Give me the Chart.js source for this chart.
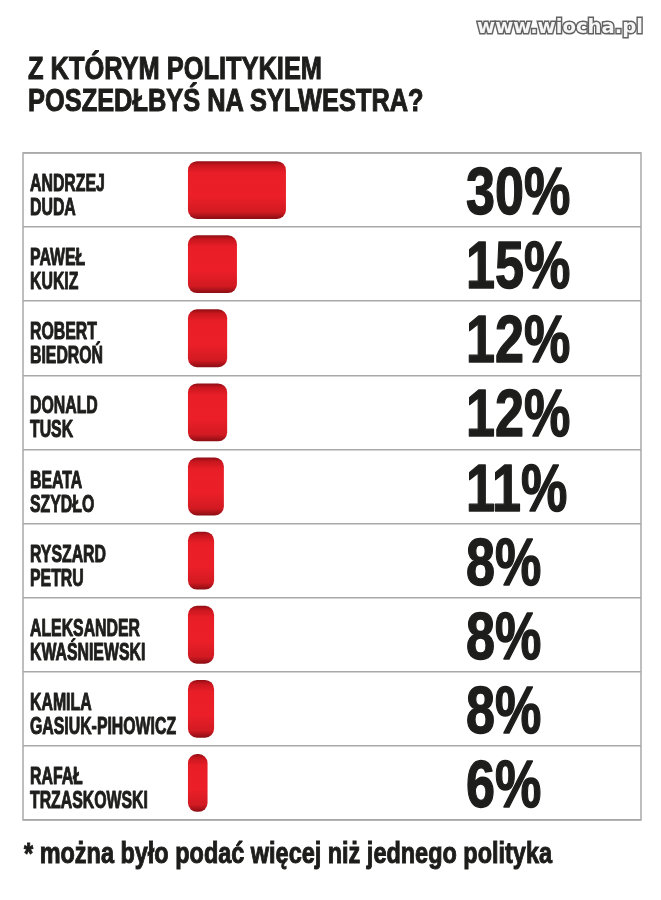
<!DOCTYPE html>
<html lang="pl">
<head>
    <title>Z którym politykiem poszedłbyś na Sylwestra?</title>
    <script src="https://cdn.jsdelivr.net/npm/chart.js@4/dist/chart.umd.min.js"></script>
    <style>
        body { margin: 0; background: #fff; }
        .page { position: relative; width: 661px; height: 900px; overflow: hidden; }
        .page canvas { position: absolute; left: 0; top: 0; }
        .title {
            position: absolute; left: 28px; top: 53px;
            font: bold 31px 'Liberation Sans', sans-serif;
            line-height: 32px; color: #1d1d1b; white-space: nowrap;
            -webkit-text-stroke: 1px #1d1d1b;
            transform-origin: left top;
        }
        .note {
            position: absolute; left: 24px; top: 837px;
            font: bold 29px 'Liberation Sans', sans-serif;
            color: #1d1d1b; white-space: nowrap;
            -webkit-text-stroke: 1px #1d1d1b;
            transform-origin: left top;
        }
        .mark {
            position: absolute; left: 477px; top: 14px;
            font: bold 20px 'DejaVu Sans', sans-serif; color: #f6f6f6;
            -webkit-text-stroke: 3px #626262; paint-order: stroke fill;
            white-space: nowrap; transform-origin: left top;
        }
    </style>
</head>
<body>
<div class="page">
    <canvas id="pollChart" width="661" height="900"></canvas>
    <div class="mark" id="mark">www.wiocha.pl</div>
    <div class="title" id="title"><span id="titleLine">Z KTÓRYM POLITYKIEM</span><br>POSZEDŁBYŚ NA SYLWESTRA?</div>
    <div class="note" id="note">* można było podać więcej niż jednego polityka</div>
</div>

<script>
    /* poll data */
    const names = [
        ["ANDRZEJ", "DUDA"],
        ["PAWEŁ", "KUKIZ"],
        ["ROBERT", "BIEDROŃ"],
        ["DONALD", "TUSK"],
        ["BEATA", "SZYDŁO"],
        ["RYSZARD", "PETRU"],
        ["ALEKSANDER", "KWAŚNIEWSKI"],
        ["KAMILA", "GASIUK-PIHOWICZ"],
        ["RAFAŁ", "TRZASKOWSKI"]
    ];
    const percents = [30, 15, 12, 12, 11, 8, 8, 8, 6];

    const gridGray = '#a9a9a9';
    const ink = '#1d1d1b';

    /* squeeze the html texts to the narrow look of the poster font */
    function fitWidth(el, measured, target) {
        el.style.transform = 'scaleX(' + (target / measured.getBoundingClientRect().width) + ')';
    }
    fitWidth(document.getElementById('title'), document.getElementById('titleLine'), 294);
    fitWidth(document.getElementById('note'), document.getElementById('note'), 528);
    fitWidth(document.getElementById('mark'), document.getElementById('mark'), 166);

    /* glossy red fill for each bar, darker at the top and bottom edges */
    function barFill(context) {
        const chart = context.chart;
        if (!chart.chartArea || context.type !== 'data') return '#e31d25';
        const yScale = chart.scales.y;
        const mid = yScale.getPixelForValue(context.dataIndex);
        const step = yScale.getPixelForValue(1) - yScale.getPixelForValue(0);
        const h = step * 0.39;
        const g = chart.ctx.createLinearGradient(0, mid - h, 0, mid + h);
        g.addColorStop(0, '#8f0e14');
        g.addColorStop(0.07, '#c8161e');
        g.addColorStop(0.2, '#e81e27');
        g.addColorStop(0.6, '#ec1f28');
        g.addColorStop(0.88, '#d21a22');
        g.addColorStop(1, '#8a0d13');
        return g;
    }

    /* outer frame of the table */
    const frame = {
        id: 'frame',
        afterDraw(chart) {
            const {ctx, chartArea: a} = chart;
            ctx.save();
            ctx.strokeStyle = gridGray;
            ctx.lineWidth = 1.5;
            ctx.strokeRect(a.left, a.top, a.right - a.left, a.bottom - a.top);
            ctx.restore();
        }
    };

    /* narrow, heavy text: squeezed horizontally and thickened with a stroke */
    function narrowText(ctx, text, x, y, squeeze, weight) {
        ctx.save();
        ctx.translate(x, y);
        ctx.scale(squeeze, 1);
        ctx.lineWidth = weight;
        ctx.lineJoin = 'round';
        ctx.strokeText(text, 0, 0);
        ctx.fillText(text, 0, 0);
        ctx.restore();
    }

    /* names on the left and big percentages on the right of each row */
    const rowTexts = {
        id: 'rowTexts',
        afterDatasetsDraw(chart) {
            const {ctx} = chart;
            const yScale = chart.scales.y;
            ctx.save();
            ctx.fillStyle = ink;
            ctx.strokeStyle = ink;
            ctx.textAlign = 'left';
            ctx.textBaseline = 'alphabetic';
            chart.data.labels.forEach((lines, i) => {
                const y = yScale.getPixelForValue(i);
                ctx.font = 'bold 24px "Liberation Sans", sans-serif';
                lines.forEach((line, k) => narrowText(ctx, line, 30, y + 1 + k * 24, 0.66, 1));
                ctx.font = 'bold 66px "Liberation Sans", sans-serif';
                narrowText(ctx, chart.data.datasets[0].data[i] + '%', 466, y + 24, 0.79, 1.4);
            });
            ctx.restore();
        }
    };

    const ctx = document.getElementById('pollChart').getContext('2d');
    const pollChart = new Chart(ctx, {
        type: 'bar',
        data: {
            labels: names,
            datasets: [{
                label: 'Odpowiedzi',
                data: percents,
                backgroundColor: barFill,
                borderRadius: 9,
                borderSkipped: false,
                categoryPercentage: 1,
                barPercentage: 0.78
            }]
        },
        options: {
            indexAxis: 'y',
            responsive: false,
            animation: false,
            events: [],
            layout: {
                padding: {top: 153, bottom: 80, left: 23, right: 20}
            },
            scales: {
                x: {
                    display: false,
                    min: -50.5,
                    max: 138.7
                },
                y: {
                    border: {display: false},
                    grid: {
                        color: gridGray,
                        lineWidth: 1.5,
                        drawTicks: false
                    },
                    ticks: {display: false}
                }
            },
            plugins: {
                legend: {display: false},
                tooltip: {enabled: false}
            }
        },
        plugins: [frame, rowTexts]
    });
</script>
</body>
</html>
